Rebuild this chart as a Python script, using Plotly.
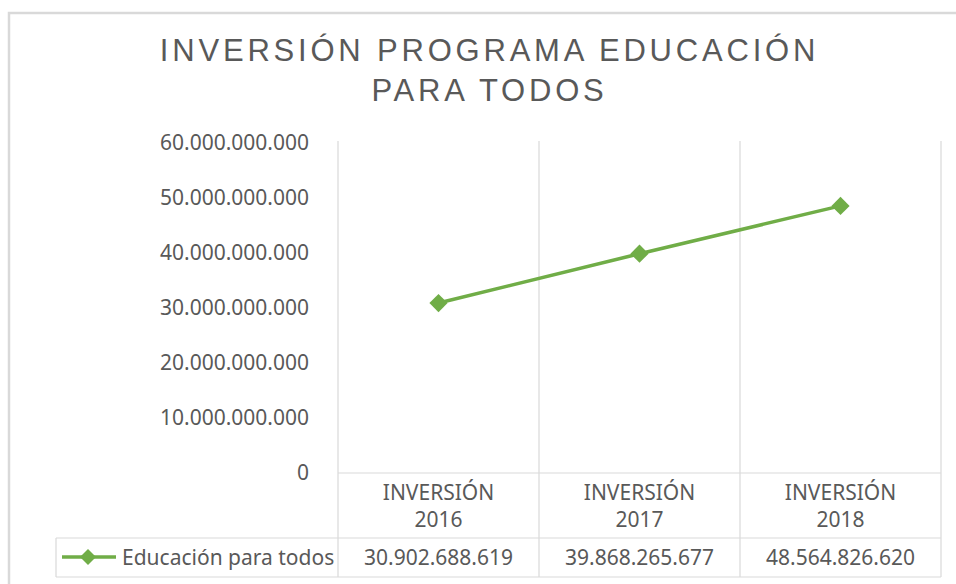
import plotly.graph_objects as go

# ---------------- data ----------------
categories = ["INVERSIÓN 2016", "INVERSIÓN 2017", "INVERSIÓN 2018"]
series_name = "Educación para todos"
values = [30902688619, 39868265677, 48564826620]
y_tick_values = [0, 10e9, 20e9, 30e9, 40e9, 50e9, 60e9]
title_lines = ["INVERSIÓN PROGRAMA EDUCACIÓN", "PARA TODOS"]

# ---------------- layout helpers ----------------
W, H = 956, 584
L, R, T, B = 338, 941, 143, 473          # plot area in pixels
PW, PH = R - L, B - T

def px(x):   # pixel x -> paper
    return (x - L) / PW

def py(y):   # pixel y -> paper
    return (B - y) / PH

GREEN = "#70ad47"
GRID = "#d9d9d9"
TXT = "#595959"
FONT = "Noto Sans"

def fmt(v):
    return f"{int(round(v)):,}".replace(",", ".")

tick_labels = [c.replace(" ", "<br>") for c in categories]

fig = go.Figure()
fig.add_trace(go.Scatter(
    x=categories, y=values, mode="lines+markers", name=series_name,
    line=dict(color=GREEN, width=3.5),
    marker=dict(symbol="diamond", size=14, color=GREEN),
    showlegend=False, cliponaxis=False,
))

shapes = []
# chart outer border
shapes.append(dict(type="rect", xref="paper", yref="paper",
                   x0=px(9), x1=px(975), y0=py(600), y1=py(13),
                   line=dict(color=GRID, width=2.5), layer="below"))
# vertical lines (category boundaries, through data table)
for xb in [L, L + PW / 3, L + 2 * PW / 3, R]:
    shapes.append(dict(type="line", xref="paper", yref="paper",
                       x0=px(xb), x1=px(xb), y0=py(141), y1=py(577),
                       line=dict(color=GRID, width=1.2), layer="below"))
# horizontal table lines
shapes.append(dict(type="line", xref="paper", yref="paper",
                   x0=px(L), x1=px(R), y0=py(473), y1=py(473),
                   line=dict(color=GRID, width=1.2), layer="below"))
for yy in [538, 577]:
    shapes.append(dict(type="line", xref="paper", yref="paper",
                       x0=px(56), x1=px(R), y0=py(yy), y1=py(yy),
                       line=dict(color=GRID, width=1.2), layer="below"))
shapes.append(dict(type="line", xref="paper", yref="paper",
                   x0=px(56), x1=px(56), y0=py(538), y1=py(577),
                   line=dict(color=GRID, width=1.2), layer="below"))
# legend key inside data table
shapes.append(dict(type="line", xref="paper", yref="paper",
                   x0=px(62), x1=px(116), y0=py(557), y1=py(557),
                   line=dict(color=GREEN, width=3.5)))
cx, cy = 88, 557
shapes.append(dict(type="path", xref="paper", yref="paper",
                   path=f"M {px(cx-8)},{py(cy)} L {px(cx)},{py(cy-8)} L {px(cx+8)},{py(cy)} L {px(cx)},{py(cy+8)} Z",
                   fillcolor=GREEN, line=dict(color=GREEN, width=0)))

annotations = []
annotations.append(dict(xref="paper", yref="paper", x=px(120), y=py(557),
                        xanchor="left", yanchor="middle", text=series_name,
                        showarrow=False, font=dict(family=FONT, size=21, color=TXT)))
for i, v in enumerate(values):
    annotations.append(dict(xref="paper", yref="paper",
                            x=(i + 0.5) / 3, y=py(557),
                            xanchor="center", yanchor="middle", text=fmt(v),
                            showarrow=False, font=dict(family=FONT, size=21, color=TXT)))

title_text = "<br>".join(
    f'<span style="letter-spacing:3.8px">{t}</span>' for t in title_lines)

fig.update_layout(
    width=W, height=H,
    margin=dict(l=L, r=W - R, t=T, b=H - B),
    paper_bgcolor="white", plot_bgcolor="white",
    separators=",.",
    title=dict(text=title_text, x=489.5 / W, xanchor="center", xref="container",
               y=1 - 61 / H, yanchor="top", yref="container",
               font=dict(family="Liberation Sans", size=31, color=TXT)),
    xaxis=dict(range=[-0.5, 2.5], tickmode="array", tickvals=categories,
               ticktext=tick_labels, showgrid=False, zeroline=False,
               showline=False, ticks="", ticklabelstandoff=5,
               tickfont=dict(family=FONT, size=21, color=TXT)),
    yaxis=dict(range=[0, 60e9], tickvals=y_tick_values,
               ticktext=[fmt(v) for v in y_tick_values],
               showgrid=False, zeroline=False, showline=False, ticks="",
               ticklabelstandoff=28,
               tickfont=dict(family=FONT, size=21, color=TXT)),
    shapes=shapes, annotations=annotations,
)

fig.write_html("out.html", config={"displayModeBar": False},
               post_script="document.body.style.margin='0';document.body.style.padding='0';")
